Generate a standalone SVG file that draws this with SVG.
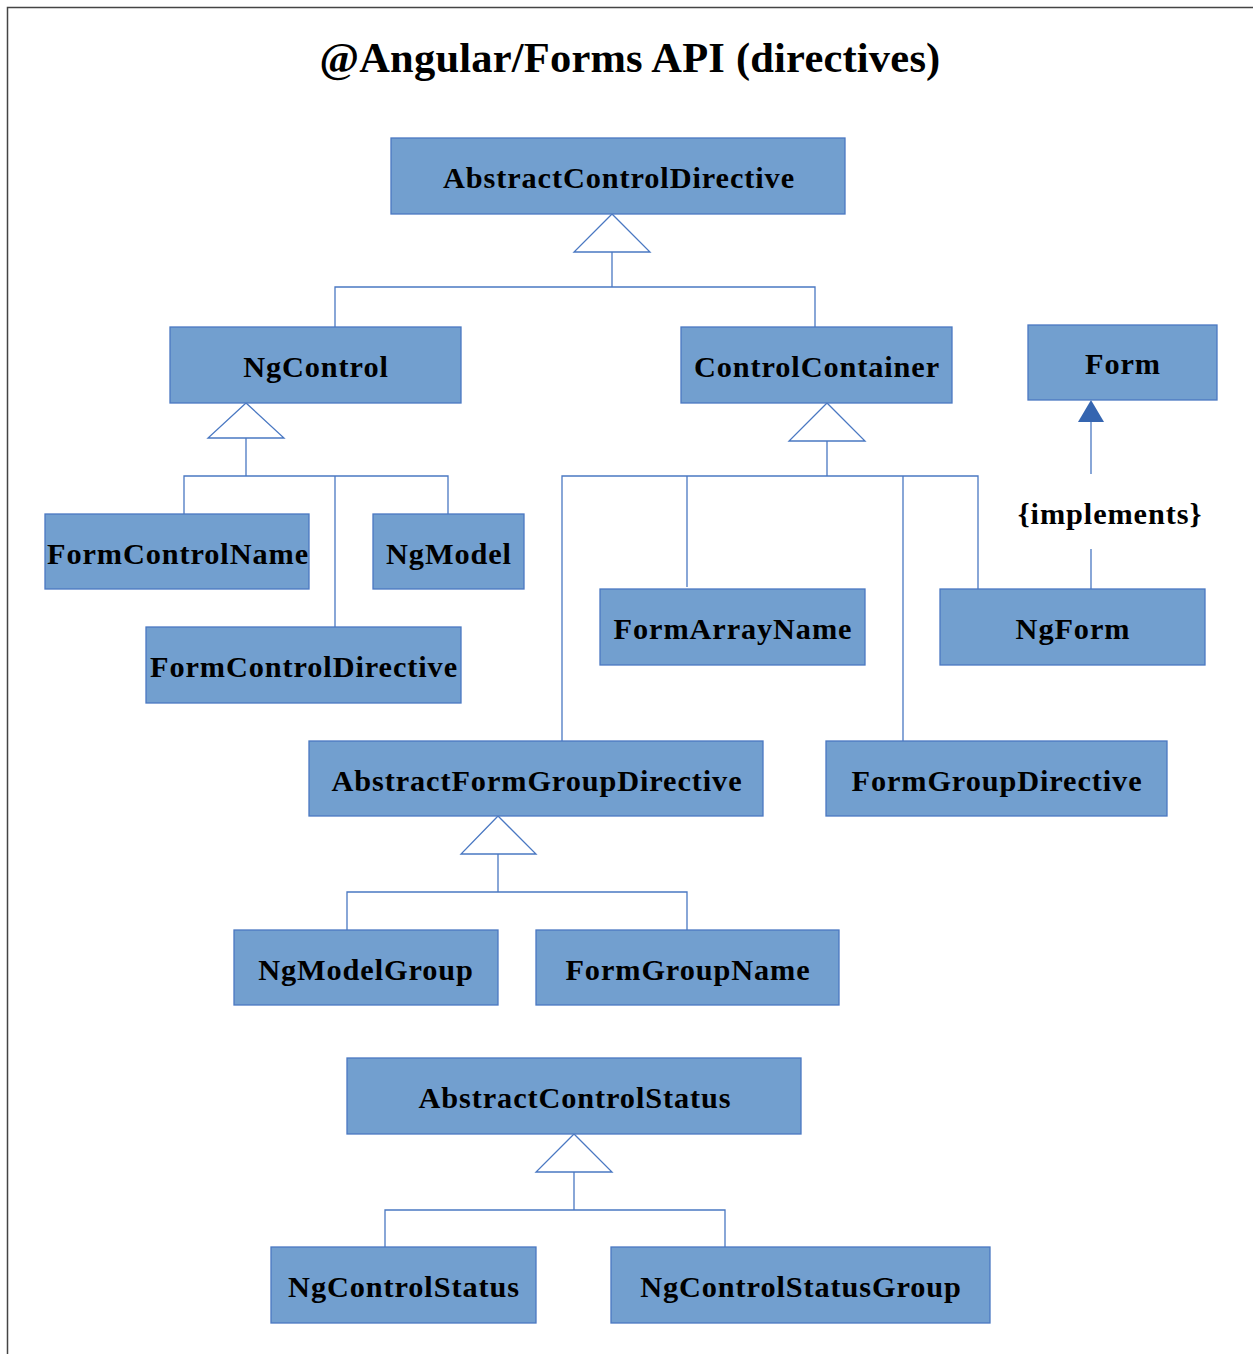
<svg xmlns="http://www.w3.org/2000/svg" width="1253" height="1354" viewBox="0 0 1253 1354">
<style>
.box{fill:#729fcf;stroke:#4a78c2;stroke-width:1.3}
.lbl{font-family:"Liberation Serif","Times New Roman",serif;font-weight:bold;font-size:30.3px;letter-spacing:0.9px;text-anchor:middle;fill:#000}
.ln{fill:none;stroke:#4a78c2;stroke-width:1.3}
.tri{fill:#fff;stroke:#4a78c2;stroke-width:1.3}
</style>
<rect x="0" y="0" width="1253" height="1354" fill="#fff"/>
<path d="M7.5 1354 V7.5 H1253" fill="none" stroke="#444" stroke-width="1.5"/>
<text x="630" y="72" font-family="'Liberation Serif','Times New Roman',serif" font-weight="bold" font-size="42.5" text-anchor="middle" letter-spacing="0.2">@Angular/Forms API (directives)</text>

<g id="connectors">
  <polygon class="tri" points="612,214 574,252 650,252"/>
  <path class="ln" d="M612 252 V287 M335 327 V287 H815 V327"/>
  <polygon class="tri" points="246,403 208,438 284,438"/>
  <path class="ln" d="M246 438 V476 M184 514 V476 H448 V514 M335 476 V627"/>
  <polygon class="tri" points="827,403 789,441 865,441"/>
  <path class="ln" d="M827 441 V476 M562 741 V476 H978 V589 M687 476 V587 M903 476 V741"/>
  <polygon class="tri" points="498,816 461,854 536,854"/>
  <path class="ln" d="M498 854 V892 M347 930 V892 H687 V930"/>
  <polygon class="tri" points="574,1134 536,1172 612,1172"/>
  <path class="ln" d="M574 1172 V1210 M385 1247 V1210 H725 V1247"/>
  <path class="ln" d="M1091 589 V549 M1091 474 V420"/>
  <polygon points="1091,400 1078,422 1104,422" fill="#3565b0"/>
  <text class="lbl" x="1110" y="524">{implements}</text>
</g>

<g id="AbstractControlDirective"><rect class="box" x="391" y="138" width="454" height="76"/><text class="lbl" x="619" y="188">AbstractControlDirective</text></g>
<g id="NgControl"><rect class="box" x="170" y="327" width="291" height="76"/><text class="lbl" x="316" y="377">NgControl</text></g>
<g id="ControlContainer"><rect class="box" x="681" y="327" width="271" height="76"/><text class="lbl" x="817" y="377">ControlContainer</text></g>
<g id="Form"><rect class="box" x="1028" y="325" width="189" height="75"/><text class="lbl" x="1123" y="374">Form</text></g>
<g id="FormControlName"><rect class="box" x="45" y="514" width="264" height="75"/><text class="lbl" x="178" y="564">FormControlName</text></g>
<g id="NgModel"><rect class="box" x="373" y="514" width="151" height="75"/><text class="lbl" x="449" y="564">NgModel</text></g>
<g id="FormControlDirective"><rect class="box" x="146" y="627" width="315" height="76"/><text class="lbl" x="304" y="677">FormControlDirective</text></g>
<g id="FormArrayName"><rect class="box" x="600" y="589" width="265" height="76"/><text class="lbl" x="733" y="639">FormArrayName</text></g>
<g id="NgForm"><rect class="box" x="940" y="589" width="265" height="76"/><text class="lbl" x="1073" y="639">NgForm</text></g>
<g id="AbstractFormGroupDirective"><rect class="box" x="309" y="741" width="454" height="75"/><text class="lbl" x="537" y="791">AbstractFormGroupDirective</text></g>
<g id="FormGroupDirective"><rect class="box" x="826" y="741" width="341" height="75"/><text class="lbl" x="997" y="791">FormGroupDirective</text></g>
<g id="NgModelGroup"><rect class="box" x="234" y="930" width="264" height="75"/><text class="lbl" x="366" y="980">NgModelGroup</text></g>
<g id="FormGroupName"><rect class="box" x="536" y="930" width="303" height="75"/><text class="lbl" x="688" y="980">FormGroupName</text></g>
<g id="AbstractControlStatus"><rect class="box" x="347" y="1058" width="454" height="76"/><text class="lbl" x="575" y="1108">AbstractControlStatus</text></g>
<g id="NgControlStatus"><rect class="box" x="271" y="1247" width="265" height="76"/><text class="lbl" x="404" y="1297">NgControlStatus</text></g>
<g id="NgControlStatusGroup"><rect class="box" x="611" y="1247" width="379" height="76"/><text class="lbl" x="801" y="1297">NgControlStatusGroup</text></g>
</svg>
